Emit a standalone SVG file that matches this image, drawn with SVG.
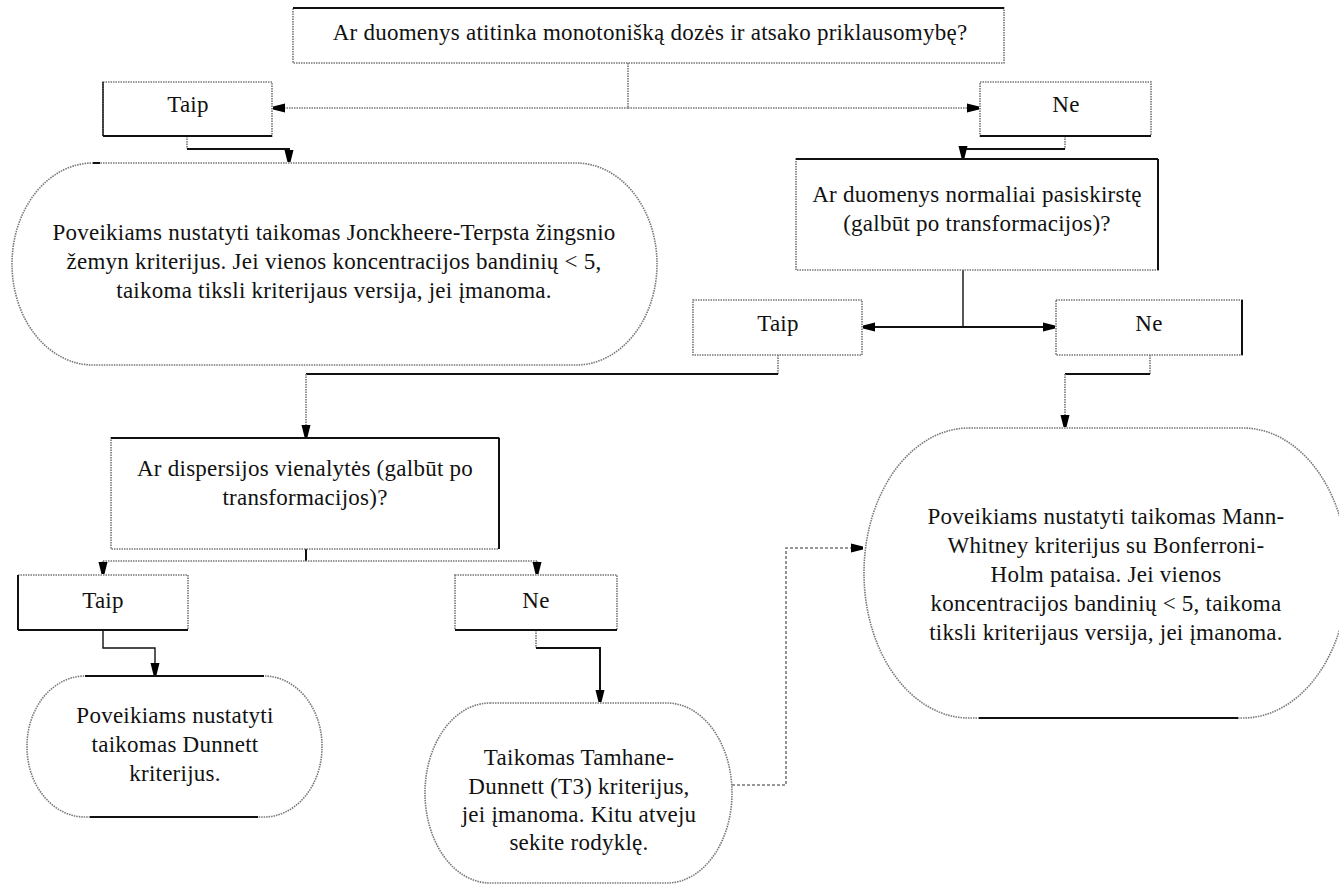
<svg xmlns="http://www.w3.org/2000/svg" width="1339" height="885" viewBox="0 0 1339 885">
  <style>
    .lbl { font-family: "Liberation Serif", "Times New Roman", serif; font-size: 23px; letter-spacing: 0.25px; fill: #111; text-anchor: middle; }
    .edge { fill: #fff; stroke: #777; stroke-width: 1.6; stroke-dasharray: 1.5 1; }
    .solid { stroke: #111; stroke-width: 2; fill: none; }
    .thin { stroke: #111; stroke-width: 1.4; fill: none; }
    .dot { stroke: #777; stroke-width: 1.6; stroke-dasharray: 1.5 1; fill: none; }
    .dash { stroke: #777; stroke-width: 1.6; stroke-dasharray: 3 2; fill: none; }
  </style>
  <defs>
    <!-- blunt filled arrowhead used by every connector -->
    <marker id="ah" markerUnits="userSpaceOnUse" markerWidth="14" markerHeight="12" refX="12" refY="6" orient="auto">
      <path d="M0,1.5 L12,4.5 L12,7.5 L0,10.5 z" fill="#000"/>
    </marker>
  </defs>
  <rect width="1339" height="885" fill="#fff"/>

  <!-- connectors -->
  <g id="connectors">
    <!-- monotonic question to Taip / Ne -->
    <path class="dot" d="M628,63 V108"/>
    <path class="dot" d="M628,108 H273" marker-end="url(#ah)"/>
    <path class="dot" d="M628,108 H979" marker-end="url(#ah)"/>
    <!-- Taip to Jonckheere-Terpstra -->
    <path class="dot" d="M187,136 V149"/>
    <path class="solid" d="M187,149 H289 V162" marker-end="url(#ah)"/>
    <!-- Ne to normality question -->
    <path class="dot" d="M1065,136 V149"/>
    <path class="solid" d="M1065,149 H963 V158" marker-end="url(#ah)"/>
    <!-- normality question to Taip / Ne -->
    <path class="thin" d="M963,270 V327"/>
    <path class="solid" d="M963,327 H863" marker-end="url(#ah)"/>
    <path class="solid" d="M963,327 H1055" marker-end="url(#ah)"/>
    <!-- Taip to variance question -->
    <path class="dot" d="M778,355 V374"/>
    <path class="solid" d="M778,374 H306"/>
    <path class="dot" d="M306,374 V437" marker-end="url(#ah)"/>
    <!-- variance question to Taip / Ne -->
    <path class="solid" d="M306,549 V561"/>
    <path class="dot" d="M103,561 H537"/>
    <path class="dot" d="M103,561 V574" marker-end="url(#ah)"/>
    <path class="dot" d="M537,561 V574" marker-end="url(#ah)"/>
    <!-- Taip to Dunnett -->
    <path class="thin" d="M103,630 V648 H155 V675" marker-end="url(#ah)"/>
    <!-- Ne to Tamhane-Dunnett -->
    <path class="dot" d="M536,630 V648"/>
    <path class="solid" d="M536,648 H600 V702" marker-end="url(#ah)"/>
    <!-- Tamhane-Dunnett fallback to Mann-Whitney -->
    <path class="dash" d="M732,785 H786 V548 H863" marker-end="url(#ah)"/>
    <!-- Ne to Mann-Whitney -->
    <path class="dot" d="M1150,355 V374"/>
    <path class="solid" d="M1150,374 H1065"/>
    <path class="dot" d="M1065,374 V427" marker-end="url(#ah)"/>
  </g>

  <!-- question: monotonic dose-response -->
  <g id="q-monotonic">
    <rect class="edge" x="293" y="8" width="711" height="55"/>
    <line class="solid" x1="293" y1="8" x2="1004" y2="8"/>
    <text class="lbl" x="650" y="40">Ar duomenys atitinka monotonišką dozės ir atsako priklausomybę?</text>
  </g>

  <g id="yes-1">
    <rect class="edge" x="103" y="82" width="169" height="54"/>
    <line class="solid" x1="103" y1="136" x2="272" y2="136"/>
    <line class="thin" x1="103" y1="82" x2="103" y2="136"/>
    <text class="lbl" x="188" y="112">Taip</text>
  </g>

  <g id="no-1">
    <rect class="edge" x="980" y="82" width="171" height="54"/>
    <line class="solid" x1="980" y1="136" x2="1151" y2="136"/>
    <text class="lbl" x="1066" y="112">Ne</text>
  </g>

  <g id="jonckheere">
    <rect class="edge" x="12" y="163" width="645" height="202" rx="81" ry="101"/>
    <line class="solid" x1="93" y1="163" x2="100" y2="163"/>
    <text class="lbl" x="334" y="240">Poveikiams nustatyti taikomas Jonckheere-Terpsta žingsnio</text>
    <text class="lbl" x="334" y="269">žemyn kriterijus. Jei vienos koncentracijos bandinių &lt; 5,</text>
    <text class="lbl" x="334" y="298">taikoma tiksli kriterijaus versija, jei įmanoma.</text>
  </g>

  <g id="q-normal">
    <rect class="edge" x="796" y="159" width="362" height="111"/>
    <line class="solid" x1="796" y1="159" x2="1158" y2="159"/>
    <line class="solid" x1="1158" y1="159" x2="1158" y2="270"/>
    <text class="lbl" x="977" y="202">Ar duomenys normaliai pasiskirstę</text>
    <text class="lbl" x="977" y="231">(galbūt po transformacijos)?</text>
  </g>

  <g id="yes-2">
    <rect class="edge" x="693" y="300" width="169" height="55"/>
    <text class="lbl" x="778" y="331">Taip</text>
  </g>

  <g id="no-2">
    <rect class="edge" x="1056" y="300" width="186" height="55"/>
    <line class="solid" x1="1242" y1="300" x2="1242" y2="355"/>
    <text class="lbl" x="1149" y="331">Ne</text>
  </g>

  <g id="q-variance">
    <rect class="edge" x="111" y="438" width="388" height="111"/>
    <line class="solid" x1="111" y1="438" x2="499" y2="438"/>
    <line class="solid" x1="499" y1="438" x2="499" y2="549"/>
    <text class="lbl" x="305" y="476">Ar dispersijos vienalytės (galbūt po</text>
    <text class="lbl" x="305" y="505">transformacijos)?</text>
  </g>

  <g id="yes-3">
    <rect class="edge" x="18" y="575" width="170" height="55"/>
    <line class="solid" x1="18" y1="575" x2="18" y2="630"/>
    <line class="solid" x1="18" y1="630" x2="188" y2="630"/>
    <text class="lbl" x="103" y="608">Taip</text>
  </g>

  <g id="no-3">
    <rect class="edge" x="455" y="575" width="162" height="55"/>
    <line class="solid" x1="455" y1="630" x2="617" y2="630"/>
    <text class="lbl" x="536" y="608">Ne</text>
  </g>

  <g id="dunnett">
    <rect class="edge" x="27" y="676" width="295" height="141" rx="58" ry="70"/>
    <line class="solid" x1="85" y1="676" x2="264" y2="676"/>
    <line class="solid" x1="90" y1="817" x2="258" y2="817"/>
    <text class="lbl" x="175" y="723">Poveikiams nustatyti</text>
    <text class="lbl" x="175" y="752">taikomas Dunnett</text>
    <text class="lbl" x="175" y="781">kriterijus.</text>
  </g>

  <g id="tamhane">
    <rect class="edge" x="425" y="703" width="307" height="180" rx="65" ry="90"/>
    <text class="lbl" x="579" y="765">Taikomas Tamhane-</text>
    <text class="lbl" x="579" y="794">Dunnett (T3) kriterijus,</text>
    <text class="lbl" x="579" y="822">jei įmanoma. Kitu atveju</text>
    <text class="lbl" x="579" y="850">sekite rodyklę.</text>
  </g>

  <g id="mann-whitney">
    <rect class="edge" x="864" y="428" width="484" height="290" rx="105" ry="145"/>
    <line class="solid" x1="979" y1="718" x2="1238" y2="718"/>
    <text class="lbl" x="1106" y="524">Poveikiams nustatyti taikomas Mann-</text>
    <text class="lbl" x="1106" y="553">Whitney kriterijus su Bonferroni-</text>
    <text class="lbl" x="1106" y="582">Holm pataisa. Jei vienos</text>
    <text class="lbl" x="1106" y="611">koncentracijos bandinių &lt; 5, taikoma</text>
    <text class="lbl" x="1106" y="640">tiksli kriterijaus versija, jei įmanoma.</text>
  </g>
</svg>
